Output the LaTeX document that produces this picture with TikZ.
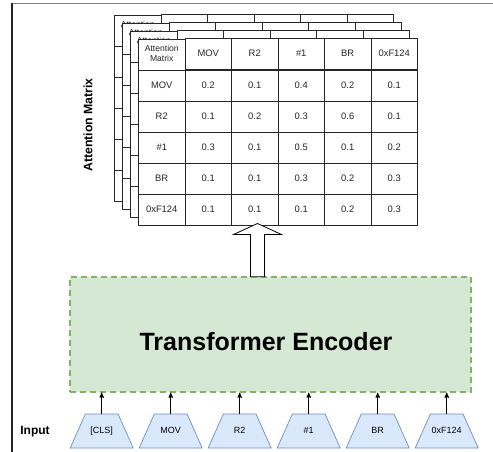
\documentclass[tikz,border=0pt]{standalone}
\usepackage{fontspec}
\setmainfont{Liberation Sans}
\usepackage{xcolor}
\usepackage{tikz}
\usetikzlibrary{arrows,shapes,matrix,positioning}

\definecolor{encfill}{HTML}{D5E8D4}
\definecolor{encline}{HTML}{82B366}
\definecolor{tokfill}{HTML}{DAE8FC}
\definecolor{tokline}{HTML}{6C8EBF}

\begin{document}
\begin{tikzpicture}[x=1pt, y=-1pt, ->, >=stealth', node distance=69pt, line width=0.9pt,
  token/.style={trapezium, trapezium angle=66, trapezium stretches body=true, minimum width=63pt, text height=6.5pt, text depth=1.5pt, inner xsep=1pt, inner ysep=13pt, draw=tokline, fill=tokfill, line width=0.7pt, font=\fontsize{9}{10}\selectfont},
  cell/.style={draw=black!85, fill=white, minimum width=46.5pt, minimum height=31pt, inner sep=1pt, line width=0.8pt, text=black!85, font=\fontsize{9.4}{11}\selectfont},
  attn/.style={matrix of nodes, nodes=cell, column sep=-0.8pt, row sep=-0.8pt, ampersand replacement=\&},
  encoder/.style={draw=encline, fill=encfill, line width=1.5pt, dash pattern=on 6pt off 4pt, minimum width=401pt, minimum height=115pt},
  tag/.style={font=\fontsize{12.3}{14}\selectfont\bfseries}]
\useasboundingbox (0,0) rectangle (493,452);

% frame
\draw[-, draw=black!50, line width=1.8pt] (12,3.5) -- (493,3.5);
\draw[-, draw=black!85, line width=1.2pt] (12,2.6) -- (12,452);

% stacked attention matrices, back to front
\foreach \k in {3,2,1,0} {
\matrix (m\k) [attn] at (278-8*\k, 131.5-8*\k) {
 |[font=\fontsize{8.6}{10}\selectfont]| \begin{tabular}{@{}c@{}}Attention\\Matrix\end{tabular} \& MOV \& R2 \& \#1 \& BR \& 0xF124 \\
 MOV \& 0.2 \& 0.1 \& 0.4 \& 0.2 \& 0.1 \\
 R2 \& 0.1 \& 0.2 \& 0.3 \& 0.6 \& 0.1 \\
 \#1 \& 0.3 \& 0.1 \& 0.5 \& 0.1 \& 0.2 \\
 BR \& 0.1 \& 0.1 \& 0.3 \& 0.2 \& 0.3 \\
 0xF124 \& 0.1 \& 0.1 \& 0.1 \& 0.2 \& 0.3 \\
};
}
\node[tag, rotate=90] (attlabel) at (88,125) {Attention Matrix};

% encoder
\node[encoder] (enc) at (270.5,334.3) {};
\node[font=\fontsize{25}{30}\selectfont\bfseries] (enctext) at (266,342) {Transformer Encoder};

% hollow arrow up to the matrices
\coordinate (tip) at (257.5,223.5);
\draw[-, fill=white, line width=0.8pt] (tip) -- ++(24,11) -- ++(-17,0) -- ++(0,42.3) -- ++(-14,0) -- ++(0,-42.3) -- ++(-17,0) -- cycle;

% input tokens
\node[tag, font=\fontsize{12}{14}\selectfont\bfseries] (inlabel) at (35,432) {Input};
\node[token] (t1) at (101.7,431) {[CLS]};
\node[token] (t2) [right of=t1] {MOV};
\node[token] (t3) [right of=t2] {R2};
\node[token] (t4) [right of=t3] {\#1};
\node[token] (t5) [right of=t4] {BR};
\node[token] (t6) [right of=t5] {0xF124};

\foreach \i in {1,...,6}
  \draw (t\i.north) -- (t\i.north |- enc.south);
\end{tikzpicture}
\end{document}
